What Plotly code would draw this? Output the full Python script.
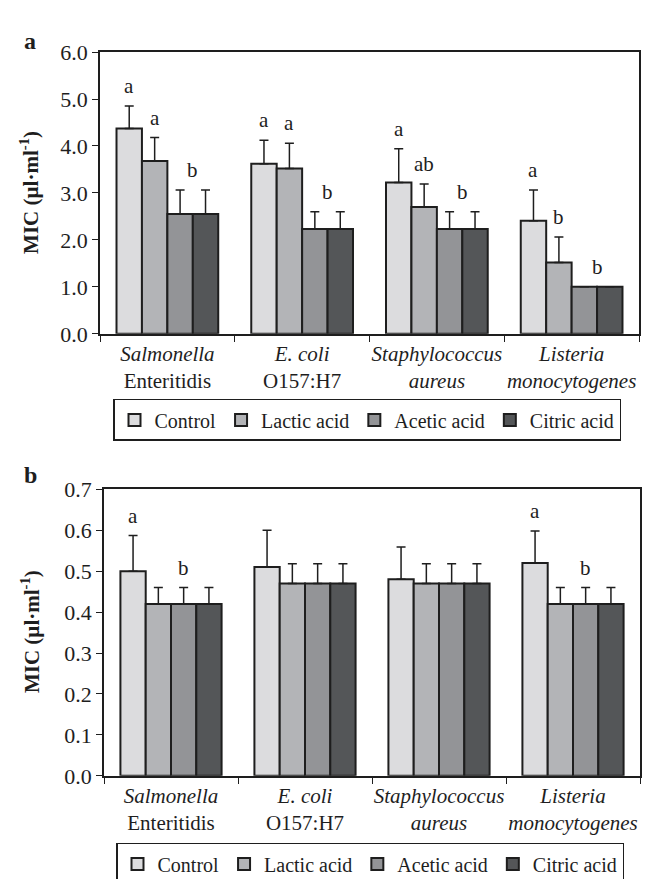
import plotly.graph_objects as go

# ---------------- data ----------------
categories = ["Salmonella Enteritidis", "E. coli O157:H7", "Staphylococcus aureus", "Listeria monocytogenes"]
tick_labels = ["<i>Salmonella</i><br>Enteritidis", "<i>E. coli</i><br>O157:H7",
               "<i>Staphylococcus</i><br><i>aureus</i>", "<i>Listeria</i><br><i>monocytogenes</i>"]
treatments = ["Control", "Lactic acid", "Acetic acid", "Citric acid"]
colors = ["#dcdcde", "#b3b4b7", "#939497", "#545658"]

# Panel a: MIC values and upper error (SD)
a_control = [4.37, 3.62, 3.22, 2.41]
a_lactic = [3.68, 3.52, 2.70, 1.52]
a_acetic = [2.55, 2.23, 2.23, 1.00]
a_citric = [2.55, 2.23, 2.23, 1.00]
a_control_err = [0.48, 0.50, 0.72, 0.65]
a_lactic_err = [0.50, 0.54, 0.49, 0.54]
a_acetic_err = [0.51, 0.37, 0.37, 0.0]
a_citric_err = [0.51, 0.37, 0.37, 0.0]

# Panel b
b_control = [0.50, 0.51, 0.48, 0.52]
b_lactic = [0.42, 0.47, 0.47, 0.42]
b_acetic = [0.42, 0.47, 0.47, 0.42]
b_citric = [0.42, 0.47, 0.47, 0.42]
b_control_err = [0.087, 0.090, 0.079, 0.078]
b_lactic_err = [0.040, 0.048, 0.048, 0.040]
b_acetic_err = [0.040, 0.048, 0.048, 0.040]
b_citric_err = [0.040, 0.048, 0.048, 0.040]

# significance letters: (category index, first bar, last bar, letter)
a_letters = [(0, 0, 0, "a"), (0, 1, 1, "a"), (0, 2, 3, "b"),
             (1, 0, 0, "a"), (1, 1, 1, "a"), (1, 2, 3, "b"),
             (2, 0, 0, "a"), (2, 1, 1, "ab"), (2, 2, 3, "b"),
             (3, 0, 0, "a"), (3, 1, 1, "b"), (3, 2, 3, "b")]
b_letters = [(0, 0, 0, "a"), (0, 1, 3, "b"), (3, 0, 0, "a"), (3, 1, 3, "b")]

# ---------------- figure ----------------
W, H = 650, 879
FONT = "Liberation Serif, Times New Roman, serif"
INK = "#1e1e1e"
BARGAP = 0.245

fig = go.Figure()

panels = [
    ("x", "y", "legend", [a_control, a_lactic, a_acetic, a_citric],
     [a_control_err, a_lactic_err, a_acetic_err, a_citric_err]),
    ("x2", "y2", "legend2", [b_control, b_lactic, b_acetic, b_citric],
     [b_control_err, b_lactic_err, b_acetic_err, b_citric_err]),
]
for xa, ya, lg, vals, errs in panels:
    for name, col, v, e in zip(treatments, colors, vals, errs):
        fig.add_trace(go.Bar(
            x=categories, y=v, name=name, xaxis=xa, yaxis=ya, legend=lg,
            marker=dict(color=col, line=dict(color=INK, width=2)),
            error_y=dict(type="data", symmetric=False, array=e, arrayminus=[0] * len(e),
                         color=INK, thickness=1.5, width=4.5),
        ))

def px_x(p):
    return p / W

def px_y(p):
    return 1 - p / H

axis_common = dict(showline=True, mirror=True, linecolor=INK, linewidth=1.5,
                   ticks="outside", ticklen=6, tickwidth=1.2, tickcolor=INK,
                   showgrid=False, zeroline=False, tickangle=0)
xfont = dict(family=FONT, size=21, color=INK)
yfont = dict(family=FONT, size=22, color=INK)
legfont = dict(family=FONT, size=20, color=INK)

fig.update_layout(
    width=W, height=H, margin=dict(l=0, r=0, t=0, b=0),
    paper_bgcolor="white", plot_bgcolor="white",
    barmode="group", bargap=BARGAP, bargroupgap=0,
    font=dict(family=FONT, size=20, color=INK),
    xaxis=dict(domain=[px_x(92), px_x(631)], anchor="y", type="category",
               tickmode="array", tickvals=categories, ticktext=tick_labels,
               tickson="boundaries", tickfont=xfont, **axis_common),
    yaxis=dict(domain=[px_y(323), px_y(33)], anchor="x", range=[0, 6], dtick=1,
               tickformat=".1f", tickfont=yfont, **axis_common),
    xaxis2=dict(domain=[px_x(96), px_x(632)], anchor="y2", type="category",
                tickmode="array", tickvals=categories, ticktext=tick_labels,
                tickson="boundaries", tickfont=xfont, **axis_common),
    yaxis2=dict(domain=[px_y(778), px_y(483)], anchor="x2", range=[0, 0.7], dtick=0.1,
                tickformat=".1f", tickfont=yfont, **axis_common),
    legend=dict(orientation="h", x=px_x(359), xanchor="center", y=px_y(390), yanchor="top",
                bordercolor=INK, borderwidth=1.5, font=legfont,
                itemclick=False, tracegroupgap=0),
    legend2=dict(orientation="h", x=px_x(362), xanchor="center", y=px_y(847), yanchor="top",
                 bordercolor=INK, borderwidth=1.5, font=legfont,
                 itemclick=False, tracegroupgap=0),
)

# letters above bars
bw = (1 - BARGAP) / 4
def bar_center(k):
    return -(1 - BARGAP) / 2 + bw * (k + 0.5)

def add_letters(letters, vals, errs, xref, yref):
    for ci, k0, k1, txt in letters:
        xpos = ci + (bar_center(k0) + bar_center(k1)) / 2
        top = max(vals[k][ci] + errs[k][ci] for k in range(k0, k1 + 1))
        fig.add_annotation(x=xpos, y=top, xref=xref, yref=yref, text=txt, showarrow=False,
                           yanchor="bottom", yshift=6, font=dict(family=FONT, size=21, color=INK))

add_letters(a_letters, panels[0][3], panels[0][4], "x", "y")
add_letters(b_letters, panels[1][3], panels[1][4], "x2", "y2")

# y-axis titles and panel letters
for yc in (178, 630):
    fig.add_annotation(x=px_x(22), y=px_y(yc), xref="paper", yref="paper",
                       text="<b>MIC (µl·ml<sup>-1</sup>)</b>", textangle=-90, showarrow=False,
                       xanchor="center", yanchor="middle", font=dict(family=FONT, size=21, color=INK))
for lbl, yc in (("a", 22), ("b", 468)):
    fig.add_annotation(x=px_x(22), y=px_y(yc), xref="paper", yref="paper",
                       text="<b>%s</b>" % lbl, showarrow=False,
                       xanchor="center", yanchor="middle", font=dict(family=FONT, size=24, color=INK))

fig.write_html("out.html")
